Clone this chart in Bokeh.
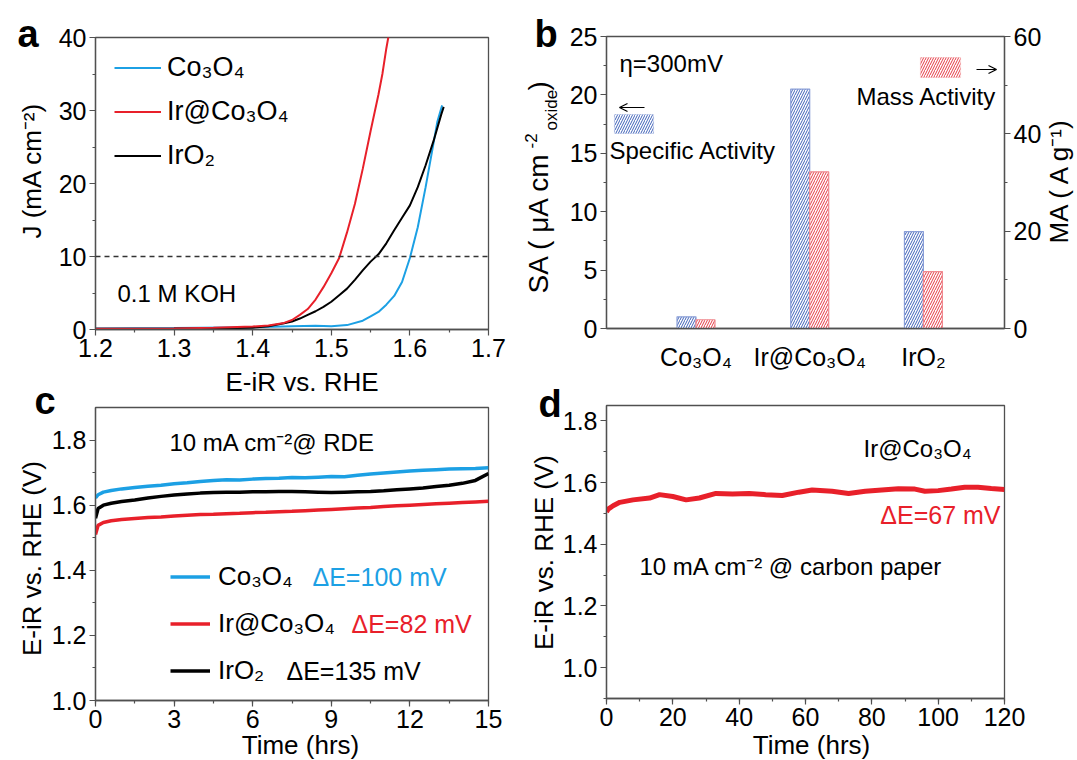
import numpy as np
from bokeh.plotting import figure
from bokeh.models import (Range1d, LinearAxis, SingleIntervalTicker, FixedTicker, Label, Legend,
                          LegendItem, BoxAnnotation, Span, Arrow, OpenHead, PrintfTickFormatter)
from bokeh.layouts import row, column
from bokeh.embed import file_html
from bokeh.resources import INLINE

# ---------------- data ----------------
# panel a : LSV curves
E_co3o4 = [1.20, 1.30, 1.40, 1.45, 1.48, 1.50, 1.52, 1.54, 1.55, 1.56, 1.57, 1.58, 1.59, 1.60, 1.61, 1.62, 1.63, 1.635, 1.641]
J_co3o4 = [0.15, 0.2, 0.3, 0.45, 0.5, 0.45, 0.6, 1.2, 1.8, 2.4, 3.4, 4.6, 6.5, 9.8, 14.0, 19.5, 25.5, 28.5, 30.7]
E_ir = [1.20, 1.30, 1.35, 1.40, 1.42, 1.44, 1.45, 1.46, 1.47, 1.48, 1.49, 1.50, 1.51, 1.52, 1.53, 1.54, 1.55, 1.56, 1.565, 1.57, 1.573]
J_ir = [0.1, 0.15, 0.25, 0.4, 0.55, 0.9, 1.3, 2.0, 2.8, 4.1, 5.8, 7.7, 9.8, 13.3, 17.2, 22.0, 27.2, 32.2, 35.0, 38.5, 40.3]
E_iro2 = [1.20, 1.30, 1.35, 1.40, 1.42, 1.44, 1.45, 1.46, 1.47, 1.48, 1.49, 1.50, 1.51, 1.52, 1.53, 1.54, 1.55, 1.56, 1.57, 1.58, 1.59, 1.60, 1.61, 1.62, 1.63, 1.64, 1.643]
J_iro2 = [0.1, 0.12, 0.15, 0.25, 0.45, 0.85, 1.1, 1.5, 2.0, 2.5, 3.1, 3.8, 4.7, 5.6, 6.8, 8.1, 9.3, 10.3, 11.8, 13.6, 15.3, 17.0, 19.5, 22.5, 25.8, 29.5, 30.5]
J_ref = 10
E_ticks = [1.2, 1.3, 1.4, 1.5, 1.6, 1.7]
E_minor = [1.25, 1.35, 1.45, 1.55, 1.65]

# panel b : activities
categories = ["Co₃O₄", "Ir@Co₃O₄", "IrO₂"]
specific_activity = [1.0, 20.5, 8.3]   # uA cm-2 oxide
mass_activity = [1.8, 32.2, 11.7]      # A g-1

# panel c : chronopotentiometry on RDE
t_c = [0, 0.1, 0.3, 0.6, 1, 1.5, 2, 2.5, 3, 3.5, 4, 4.5, 5, 5.5, 6, 6.5, 7, 7.5, 8, 8.5, 9, 9.5,
       10, 10.5, 11, 11.5, 12, 12.5, 13, 13.5, 14, 14.5, 15]
V_co3o4 = [1.622, 1.632, 1.640, 1.645, 1.650, 1.654, 1.658, 1.661, 1.666, 1.669, 1.673, 1.676, 1.678,
           1.677, 1.680, 1.682, 1.683, 1.685, 1.684, 1.686, 1.688, 1.687, 1.692, 1.696, 1.699, 1.702,
           1.705, 1.707, 1.709, 1.711, 1.712, 1.713, 1.715]
V_iro2 = [1.560, 1.590, 1.600, 1.606, 1.611, 1.616, 1.622, 1.627, 1.631, 1.634, 1.637, 1.639, 1.640,
          1.640, 1.641, 1.641, 1.642, 1.642, 1.641, 1.640, 1.639, 1.640, 1.641, 1.642, 1.644, 1.647,
          1.650, 1.653, 1.657, 1.661, 1.667, 1.676, 1.697]
V_ir = [1.510, 1.538, 1.547, 1.552, 1.556, 1.559, 1.562, 1.564, 1.567, 1.569, 1.571, 1.572, 1.574,
        1.575, 1.577, 1.578, 1.580, 1.581, 1.583, 1.585, 1.587, 1.589, 1.591, 1.593, 1.596, 1.598,
        1.600, 1.602, 1.604, 1.606, 1.608, 1.610, 1.612]

# panel d : chronopotentiometry on carbon paper
t_d = [0, 0.5, 2, 4, 8, 13, 16, 20, 24, 28, 33, 38, 43, 48, 53, 58, 62, 68, 73, 78, 83, 88, 93, 96,
       100, 104, 108, 112, 116, 120]
V_d = [1.505, 1.514, 1.525, 1.536, 1.544, 1.550, 1.561, 1.555, 1.544, 1.550, 1.565, 1.563, 1.565,
       1.561, 1.558, 1.569, 1.576, 1.572, 1.565, 1.572, 1.576, 1.580, 1.579, 1.572, 1.574, 1.579,
       1.585, 1.585, 1.581, 1.578]

# ---------------- style ----------------
FONT = "Liberation Sans"
AX = "#505050"
BLUE = "#1ca0e4"
RED = "#e8202a"
BLACK = "#000000"
TICK = "25px"
AXL = "26px"
TXT = "24px"
W, H = 1077, 760


def style(p):
    p.outline_line_color = AX
    p.outline_line_width = 1.3
    p.xgrid.visible = False
    p.ygrid.visible = False
    p.background_fill_color = "white"
    p.border_fill_color = "white"
    for ax in p.axis:
        ax.axis_line_color = AX
        ax.axis_line_width = 1.3
        ax.major_tick_line_color = AX
        ax.minor_tick_line_color = AX
        ax.major_tick_line_width = 1.2
        ax.minor_tick_line_width = 1.2
        ax.major_tick_in = 0
        ax.major_tick_out = 6
        ax.minor_tick_in = 0
        ax.minor_tick_out = 3
        ax.major_label_text_font = FONT
        ax.major_label_text_font_size = TICK
        ax.major_label_text_color = "black"
        ax.major_label_standoff = 3


def lab(p, text, x, y, size=TXT, color="black", align="left", angle=0.0, fstyle="normal"):
    # (x, y): screen position of the text's vertical middle
    p.add_layout(Label(x=x, y=y, x_units="screen", y_units="screen", text=text,
                       text_font=FONT, text_font_size=size, text_color=color,
                       text_align=align, text_baseline="middle", angle=angle,
                       text_font_style=fstyle))


def fig(w, h, xr, yr, bl, br, bt, bb):
    return figure(width=w, height=h, x_range=xr, y_range=yr, output_backend="svg",
                  toolbar_location=None, min_border_left=bl, min_border_right=br,
                  min_border_top=bt, min_border_bottom=bb)


# ---------------- panel a ----------------
pa = fig(515, 380, Range1d(1.2, 1.7), Range1d(0, 40), 90, 27, 37, 51)
pa.xaxis.ticker = FixedTicker(ticks=E_ticks, minor_ticks=E_minor)
pa.xaxis.formatter = PrintfTickFormatter(format="%.1f")
pa.yaxis.ticker = SingleIntervalTicker(interval=10, num_minor_ticks=2)
style(pa)
pa.add_layout(Span(location=J_ref, dimension="width", line_color="#333333", line_width=1.3,
                   line_dash="5 4"))
ra1 = pa.line(E_co3o4, J_co3o4, line_color=BLUE, line_width=2)
ra3 = pa.line(E_iro2, J_iro2, line_color=BLACK, line_width=2)
ra2 = pa.line(E_ir, J_ir, line_color=RED, line_width=2)
leg_a = Legend(items=[LegendItem(label="Co₃O₄", renderers=[ra1]),
                      LegendItem(label="Ir@Co₃O₄", renderers=[ra2]),
                      LegendItem(label="IrO₂", renderers=[ra3])],
               location=(19, 158), margin=0, padding=0, spacing=13, glyph_width=47,
               glyph_height=31, label_height=31, label_standoff=6,
               label_text_font=FONT, label_text_font_size="27px", label_text_color="black",
               border_line_alpha=0, background_fill_alpha=0)
pa.add_layout(leg_a)
lab(pa, "0.1 M KOH", 22, 36.5)

# ---------------- panel b ----------------
pb = fig(562, 380, Range1d(0.213, 3.713), Range1d(0, 25), 91, 73, 36, 52)
pb.extra_y_ranges = {"ma": Range1d(0, 60)}
pb.add_layout(LinearAxis(y_range_name="ma",
                         ticker=SingleIntervalTicker(interval=20, num_minor_ticks=2)), "right")
pb.yaxis[0].ticker = SingleIntervalTicker(interval=5, num_minor_ticks=2)
xpos = np.arange(1, len(categories) + 1)
pb.xaxis.ticker = FixedTicker(ticks=list(xpos))
pb.xaxis.major_label_overrides = {int(i): c for i, c in zip(xpos, categories)}
style(pb)
pb.xaxis.major_tick_line_color = None
pb.xaxis.minor_tick_line_color = None
pb.xaxis.major_label_standoff = 8
bw = 0.167
pb.vbar(x=xpos - bw / 2, top=specific_activity, width=bw, fill_color="white",
        line_color="#8a9fd8", line_width=1.2, hatch_pattern="/", hatch_color="#3f62b8",
        hatch_scale=5, hatch_weight=1)
pb.vbar(x=xpos + bw / 2, top=mass_activity, width=bw, y_range_name="ma", fill_color="white",
        line_color="#f08a90", line_width=1.2, hatch_pattern="/", hatch_color="#e53a45",
        hatch_scale=5, hatch_weight=1)
pb.add_layout(BoxAnnotation(left=8, right=47, top=214, bottom=195, left_units="screen",
                            right_units="screen", top_units="screen", bottom_units="screen",
                            fill_color="white", fill_alpha=1, line_color="#8a9fd8", line_width=1.2,
                            hatch_pattern="/", hatch_color="#3f62b8", hatch_scale=5, hatch_weight=1))
pb.add_layout(BoxAnnotation(left=314, right=354, top=271, bottom=251, left_units="screen",
                            right_units="screen", top_units="screen", bottom_units="screen",
                            fill_color="white", fill_alpha=1, line_color="#f08a90", line_width=1.2,
                            hatch_pattern="/", hatch_color="#e53a45", hatch_scale=5, hatch_weight=1))
pb.add_layout(Arrow(end=OpenHead(size=8, line_width=1.2), x_start=38, y_start=221, x_end=13,
                    y_end=221, start_units="screen", end_units="screen", line_width=1.2))
pb.add_layout(Arrow(end=OpenHead(size=8, line_width=1.2), x_start=370, y_start=259, x_end=390,
                    y_end=259, start_units="screen", end_units="screen", line_width=1.2))
lab(pb, "η=300mV", 13, 265.5)
lab(pb, "Specific Activity", 3, 178)
lab(pb, "Mass Activity", 250, 232)

# ---------------- panel c ----------------
pc = fig(515, 380, Range1d(0, 15), Range1d(1.0, 1.9), 95, 22, 27, 60)
pc.xaxis.ticker = SingleIntervalTicker(interval=3, num_minor_ticks=2)
pc.yaxis.ticker = SingleIntervalTicker(interval=0.2, num_minor_ticks=2)
pc.yaxis.formatter = PrintfTickFormatter(format="%.1f")
style(pc)
rc1 = pc.line(t_c, V_co3o4, line_color=BLUE, line_width=3.5)
rc3 = pc.line(t_c, V_iro2, line_color=BLACK, line_width=3.5)
rc2 = pc.line(t_c, V_ir, line_color=RED, line_width=3.5)
leg_c = Legend(items=[LegendItem(label="Co₃O₄", renderers=[rc1]),
                      LegendItem(label="Ir@Co₃O₄", renderers=[rc2]),
                      LegendItem(label="IrO₂", renderers=[rc3])],
               location=(75, 14), margin=0, padding=0, spacing=16, glyph_width=40,
               glyph_height=31, label_height=31, label_standoff=8,
               label_text_font=FONT, label_text_font_size="26px", label_text_color="black",
               border_line_alpha=0, background_fill_alpha=0)
pc.add_layout(leg_c)
lab(pc, "ΔE=100 mV", 217, 124, size="25px", color=BLUE)
lab(pc, "ΔE=82 mV", 256, 77, size="25px", color=RED)
lab(pc, "ΔE=135 mV", 191, 30, size="25px", color=BLACK)
lab(pc, "10 mA cm⁻²@ RDE", 74, 258)

# ---------------- panel d ----------------
pd_ = fig(562, 380, Range1d(0, 120), Range1d(0.9, 1.85), 91, 73, 25, 62)
pd_.xaxis.ticker = SingleIntervalTicker(interval=20, num_minor_ticks=2)
pd_.yaxis.ticker = SingleIntervalTicker(interval=0.2, num_minor_ticks=2)
pd_.yaxis.formatter = PrintfTickFormatter(format="%.1f")
style(pd_)
pd_.line(t_d, V_d, line_color=RED, line_width=5)
lab(pd_, "Ir@Co₃O₄", 257, 250.5)
lab(pd_, "ΔE=67 mV", 394, 184, size="25px", color=RED, align="right")
lab(pd_, "10 mA cm⁻² @ carbon paper", 33, 132)

# ---------------- transparent overlay for texts outside the plot frames ----------------
ov = figure(width=W, height=H, x_range=Range1d(0, 1), y_range=Range1d(0, 1),
            output_backend="svg", toolbar_location=None, x_axis_location=None,
            y_axis_location=None, min_border=0, min_border_left=0, min_border_right=0,
            min_border_top=0, min_border_bottom=0, margin=(-H, 0, 0, 0))
ov.outline_line_color = None
ov.background_fill_color = None
ov.border_fill_color = None
ov.xgrid.visible = False
ov.ygrid.visible = False
ANG = np.pi / 2
# panel letters
lab(ov, "a", 17, H - 33, size="38px", fstyle="bold")
lab(ov, "b", 534, H - 33, size="38px", fstyle="bold")
lab(ov, "c", 34, H - 400, size="38px", fstyle="bold")
lab(ov, "d", 538, H - 403, size="38px", fstyle="bold")
# axis titles
lab(ov, "E-iR vs. RHE", 301.5, H - 381, size=AXL, align="center")
lab(ov, "Time (hrs)", 300, H - 744, size=AXL, align="center")
lab(ov, "Time (hrs)", 811, H - 744, size=AXL, align="center")
lab(ov, "J (mA cm⁻²)", 31, H - 170, size=AXL, align="center", angle=ANG)
lab(ov, "E-iR vs. RHE (V)", 31, H - 558, size=AXL, align="center", angle=ANG)
lab(ov, "E-iR vs. RHE (V)", 543, H - 552, size=AXL, align="center", angle=ANG)
lab(ov, "SA ( μA cm", 538, H - 293, size="28px", angle=ANG)
lab(ov, "-2", 530, H - 148, size="17px", angle=ANG)
lab(ov, "oxide", 551, H - 130, size="17px", angle=ANG)
lab(ov, ")", 538, H - 90, size="28px", angle=ANG)
lab(ov, "MA ( A g⁻¹)", 1058, H - 243, size="26px", angle=ANG)

layout = column(row(column(pa, pc), column(pb, pd_)), ov)
open("out.html", "w").write(file_html(layout, INLINE))
